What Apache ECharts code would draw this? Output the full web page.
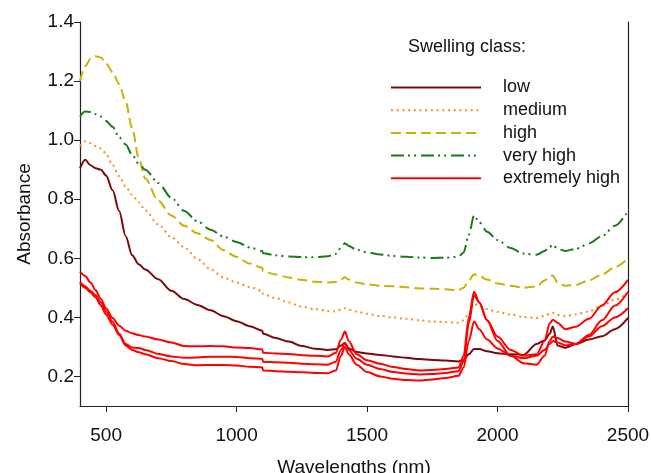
<!DOCTYPE html>
<html><head><meta charset="utf-8">
<script src="https://cdn.jsdelivr.net/npm/echarts@6/dist/echarts.min.js"></script>
<style>html,body{margin:0;padding:0;background:#fff}#c{width:651px;height:473px}</style>
</head><body><div id="c"></div>
<script>
const wavelengths = [400,420,440,460,480,500,525,550,575,600,625,650,700,750,800,850,900,950,1000,1050,1098,1102,1150,1200,1250,1300,1350,1380,1400,1415,1430,1460,1500,1550,1600,1650,1700,1750,1800,1850,1870,1890,1910,1930,1960,2000,2050,2100,2150,2180,2200,2212,2230,2260,2300,2350,2400,2450,2500];

const lowVals = [0.905,0.934,0.915,0.905,0.9,0.88,0.83,0.76,0.675,0.61,0.58,0.562,0.529,0.49,0.462,0.442,0.424,0.404,0.387,0.37,0.355,0.345,0.33,0.318,0.303,0.294,0.29,0.292,0.305,0.313,0.295,0.283,0.278,0.273,0.268,0.263,0.259,0.256,0.254,0.251,0.255,0.275,0.293,0.293,0.285,0.279,0.275,0.273,0.31,0.322,0.345,0.369,0.305,0.297,0.31,0.325,0.336,0.36,0.398];

const mediumVals = [0.98,0.996,0.99,0.98,0.972,0.955,0.915,0.878,0.843,0.815,0.79,0.762,0.715,0.672,0.637,0.598,0.563,0.535,0.518,0.503,0.49,0.478,0.465,0.45,0.436,0.428,0.422,0.42,0.426,0.431,0.426,0.42,0.412,0.405,0.4,0.395,0.39,0.386,0.384,0.382,0.39,0.412,0.445,0.44,0.428,0.418,0.41,0.401,0.398,0.405,0.412,0.415,0.408,0.405,0.41,0.42,0.44,0.46,0.482];

const highVals = [1.2,1.25,1.275,1.284,1.28,1.26,1.23,1.19,1.13,1.04,0.94,0.87,0.795,0.745,0.71,0.685,0.662,0.627,0.605,0.582,0.568,0.556,0.545,0.535,0.527,0.521,0.518,0.52,0.528,0.536,0.528,0.518,0.512,0.507,0.505,0.502,0.498,0.497,0.495,0.492,0.5,0.525,0.546,0.54,0.528,0.515,0.507,0.5,0.505,0.525,0.535,0.542,0.518,0.507,0.51,0.525,0.545,0.57,0.6];

const veryHighVals = [1.08,1.097,1.095,1.088,1.08,1.065,1.045,1.01,0.985,0.95,0.92,0.9,0.855,0.805,0.76,0.725,0.697,0.674,0.655,0.637,0.625,0.617,0.61,0.606,0.604,0.604,0.607,0.615,0.635,0.651,0.642,0.629,0.62,0.613,0.608,0.605,0.603,0.601,0.602,0.605,0.62,0.68,0.745,0.722,0.69,0.662,0.635,0.616,0.612,0.625,0.638,0.646,0.632,0.625,0.632,0.65,0.675,0.71,0.76];

const extremeA = [0.555,0.54,0.518,0.492,0.462,0.43,0.398,0.372,0.355,0.346,0.34,0.335,0.325,0.315,0.303,0.302,0.303,0.302,0.298,0.296,0.292,0.28,0.278,0.276,0.272,0.27,0.268,0.28,0.325,0.352,0.32,0.275,0.255,0.243,0.232,0.225,0.22,0.222,0.225,0.23,0.27,0.4,0.487,0.45,0.39,0.335,0.29,0.27,0.275,0.32,0.38,0.392,0.382,0.36,0.368,0.395,0.44,0.485,0.527];

const extremeB = [0.52,0.505,0.49,0.475,0.45,0.42,0.385,0.345,0.31,0.298,0.296,0.29,0.276,0.268,0.263,0.264,0.267,0.267,0.266,0.262,0.26,0.25,0.248,0.246,0.243,0.241,0.24,0.25,0.29,0.312,0.29,0.26,0.24,0.225,0.215,0.21,0.207,0.208,0.212,0.218,0.25,0.38,0.475,0.45,0.39,0.32,0.27,0.245,0.24,0.27,0.32,0.335,0.33,0.318,0.31,0.34,0.39,0.44,0.487];

const extremeC = [0.516,0.5,0.485,0.468,0.44,0.41,0.375,0.34,0.305,0.29,0.282,0.275,0.262,0.252,0.242,0.238,0.239,0.239,0.237,0.233,0.231,0.22,0.218,0.216,0.214,0.212,0.211,0.22,0.27,0.3,0.275,0.24,0.215,0.2,0.192,0.188,0.186,0.19,0.195,0.202,0.23,0.32,0.386,0.36,0.325,0.295,0.27,0.262,0.27,0.29,0.31,0.32,0.315,0.305,0.31,0.335,0.37,0.4,0.431];

const yTicks = [0.2,0.4,0.6,0.8,1.0,1.2,1.4];
const xTicks = [500,1000,1500,2000,2500];
const legendTitle = 'Swelling class:';

function pts(vals){ return wavelengths.map((w,i)=>[w, vals[i]]); }
function mk(name, vals, color, type){
  return {name, type:'line', data:pts(vals), showSymbol:false, symbol:'none', smooth:0.3, smoothMonotone:'x',
    lineStyle:{color, width:2, type, cap:'butt'}, itemStyle:{color}, animation:false};
}

const chart = echarts.init(document.getElementById('c'), null, {renderer:'canvas'});
const font = 'Liberation Sans, Arial, sans-serif';
const axisCol = '#222';
chart.setOption({
  animation:false,
  backgroundColor:'#fff',
  textStyle:{fontFamily:font},
  grid:{left:80, right:23, top:22, bottom:67, containLabel:false, outerBoundsMode:'none'},
  title:{text:legendTitle, left:403, top:33, textStyle:{fontSize:18, fontWeight:'normal', color:'#111', fontFamily:font}},
  legend:{orient:'vertical', left:385, top:73.5, itemWidth:90, itemHeight:14, itemGap:4.7,
    itemStyle:{opacity:0},
    textStyle:{fontSize:18, lineHeight:18, color:'#111', fontFamily:font, padding:[0,0,0,17]},
    data:['low','medium','high','very high','extremely high']},
  xAxis:{type:'value', min:400, max:2500,
    axisLine:{show:true, onZero:false, lineStyle:{color:axisCol, width:1.2}},
    axisTick:{show:true, length:6, customValues:xTicks, lineStyle:{color:axisCol}},
    axisLabel:{customValues:xTicks, fontSize:19, color:'#111', margin:20, fontFamily:font, formatter:v=>String(v)},
    splitLine:{show:false},
    name:'Wavelengths (nm)', nameLocation:'middle', nameGap:52,
    nameTextStyle:{fontSize:19, color:'#111', fontFamily:font}},
  yAxis:[{type:'value', min:0.1, max:1.4,
    axisLine:{show:true, onZero:false, lineStyle:{color:axisCol, width:1.2}},
    axisTick:{show:true, length:6, customValues:yTicks, lineStyle:{color:axisCol}},
    axisLabel:{customValues:yTicks, fontSize:19, color:'#111', margin:6, fontFamily:font, formatter:v=>v.toFixed(1)},
    splitLine:{show:false},
    name:'Absorbance', nameLocation:'middle', nameGap:46,
    nameTextStyle:{fontSize:19, color:'#111', fontFamily:font}},
   {type:'value', min:0.1, max:1.4, position:'right',
    axisLine:{show:true, onZero:false, lineStyle:{color:axisCol, width:1.2}},
    axisTick:{show:false}, axisLabel:{show:false}, splitLine:{show:false}}],
  series:[
    mk('low', lowVals, '#7a0a0a', 'solid'),
    mk('medium', mediumVals, '#ff8a1e', [2,3.7]),
    mk('high', highVals, '#c8b400', [10,5]),
    mk('very high', veryHighVals, '#1a7a1a', [13,4,2,4,2,5]),
    mk('extremely high', extremeA, '#ff0000', 'solid'),
    mk('extremely high', extremeB, '#ff0000', 'solid'),
    mk('extremely high', extremeC, '#ff0000', 'solid')
  ]
});
</script></body></html>
